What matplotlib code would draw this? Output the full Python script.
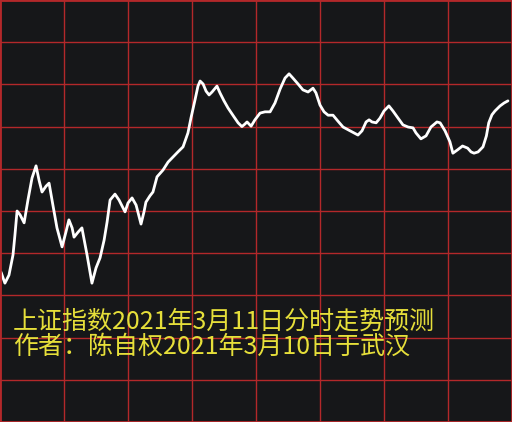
import matplotlib

matplotlib.use("Agg")
import matplotlib.pyplot as plt

# 分时走势（横轴：交易分钟 0-240，纵轴：网格刻度单位）
minutes = [0.5, 2.3, 4.2, 6.1, 7.0, 8.0, 9.4, 11.3, 13.1, 15.0, 16.9, 18.3, 19.7, 21.6,
           23.0, 24.8, 26.7, 29.1, 30.9, 32.3, 33.8, 34.7, 36.6, 38.4, 40.8, 43.1, 45.0,
           46.9, 48.8, 50.2, 51.6, 53.9, 55.8, 58.6, 60.0, 61.9, 63.8, 66.1, 67.5, 68.4,
           70.3, 71.7, 73.6, 76.4, 78.8, 81.1, 83.4, 85.8, 88.1, 89.5, 91.4, 92.8, 93.8,
           95.2, 96.6, 98.0, 99.4, 101.7, 103.1, 105.0, 106.9, 109.7, 111.6, 113.4, 114.8,
           115.8, 117.7, 119.5, 121.9, 124.2, 126.6, 128.9, 131.3, 133.6, 135.5, 137.3,
           139.7, 142.0, 144.4, 146.7, 148.1, 150.0, 151.9, 153.8, 156.1, 158.4, 160.8,
           164.1, 167.8, 169.7, 171.6, 173.0, 174.4, 176.3, 178.1, 180.0, 182.3, 184.2,
           186.6, 188.9, 191.3, 193.6, 195.0, 197.3, 199.7, 202.0, 204.8, 206.3, 208.6,
           210.9, 212.3, 214.5, 216.8, 219.2, 220.8, 222.2, 224.1, 226.4, 228.0, 229.1,
           230.6, 232.0, 234.4, 236.3, 238.1]
levels = [3.55, 3.29, 3.48, 3.96, 4.43, 5.00, 4.91, 4.72, 5.26, 5.78, 6.07, 5.73, 5.45,
          5.59, 5.66, 5.14, 4.60, 4.15, 4.50, 4.79, 4.60, 4.38, 4.50, 4.60, 3.96, 3.29,
          3.65, 3.89, 4.31, 4.74, 5.26, 5.40, 5.26, 4.98, 5.19, 5.31, 5.14, 4.69, 4.98,
          5.21, 5.36, 5.45, 5.81, 5.97, 6.16, 6.28, 6.40, 6.52, 6.85, 7.20, 7.63, 7.96,
          8.08, 8.01, 7.84, 7.75, 7.82, 7.96, 7.80, 7.61, 7.44, 7.23, 7.09, 7.00, 7.06,
          7.11, 7.01, 7.16, 7.32, 7.35, 7.35, 7.56, 7.89, 8.15, 8.25, 8.15, 8.01, 7.87,
          7.82, 7.91, 7.80, 7.51, 7.35, 7.27, 7.27, 7.13, 6.99, 6.90, 6.80, 6.90, 7.11,
          7.16, 7.11, 7.09, 7.20, 7.37, 7.49, 7.37, 7.20, 7.04, 6.99, 6.97, 6.85, 6.71,
          6.78, 6.99, 7.11, 7.09, 6.90, 6.64, 6.37, 6.45, 6.54, 6.49, 6.40, 6.37, 6.40,
          6.52, 6.78, 7.09, 7.28, 7.37, 7.49, 7.56, 7.61]

title_lines = ["上证指数2021年3月11日分时走势预测", "作者：陈自权2021年3月10日于武汉"]

BG = "#161719"
GRID = "#b3282a"
YELLOW = "#e6df3a"

fig = plt.figure(figsize=(5.12, 4.22), dpi=100)
fig.patch.set_facecolor(BG)
ax = fig.add_axes([0, 0, 1, 1])
ax.set_facecolor(BG)
ax.set_xlim(0, 240)
ax.set_ylim(0, 10)
ax.set_xticks(range(0, 241, 30))
ax.set_yticks(range(0, 11))
ax.grid(True, color=GRID, linewidth=1.0)
ax.tick_params(length=0, labelbottom=False, labelleft=False)
for s in ax.spines.values():
    s.set_color(GRID)
    s.set_linewidth(2)

ax.plot(minutes, levels, color="white", linewidth=2.0, solid_joinstyle="round",
        solid_capstyle="round")

for i, line in enumerate(title_lines):
    ax.text(6, 2.37 - i * 0.6, line, color=YELLOW, fontsize=18,
            family=["Noto Sans CJK SC", "DejaVu Sans"], va="center", ha="left")

fig.savefig("out.png", facecolor=BG)
